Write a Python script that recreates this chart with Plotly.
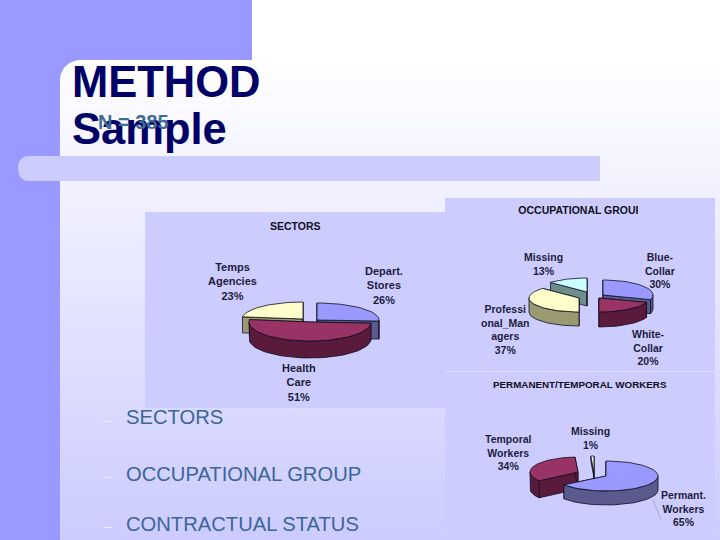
import math
import plotly.graph_objects as go

W, H = 720, 540
TITLE_LINES = ["METHOD", "Sample"]
SUBTITLE = "N = 385"
LIST_ITEMS = ["SECTORS", "OCCUPATIONAL GROUP", "CONTRACTUAL STATUS"]

SECTOR_NAMES = ["Depart.<br>Stores<br>26%", "Health<br>Care<br>51%", "Temps<br>Agencies<br>23%"]
SECTOR_VALUES = [26, 51, 23]
OCC_NAMES = ["Blue-<br>Collar<br>30%", "White-<br>Collar<br>20%", "Professi<br>onal_Man<br>agers<br>37%", "Missing<br>13%"]
OCC_VALUES = [30, 20, 37, 13]
PERM_NAMES = ["Permant.<br>Workers<br>65%", "Temporal<br>Workers<br>34%", "Missing<br>1%"]
PERM_VALUES = [65, 34, 1]

BLUE = ("#9999FF", "#5A5A8F")
PLUM = ("#993366", "#5A1A3C")
CREAM = ("#FFFFCC", "#9A9A72")
CYAN = ("#CCFFFF", "#6E8E8E")
PALE = ("#E8FFE8", "#556655")
INK = "#1C1C3C"

fig = go.Figure()
shapes = []
def rect(x0, y0, x1, y1, color):
    shapes.append(dict(type="rect", xref="x", yref="y", x0=x0, y0=y0, x1=x1, y1=y1,
                       fillcolor=color, line_width=0, layer="below"))

# slide background
rect(0, 0, 720, 540, "#FFFFFF")
rect(0, 0, 60, 540, "#9999FF")
rect(0, 0, 252, 60, "#9999FF")
# panel with a vertical gradient from white to the band colour
steps = 48
for i in range(steps):
    y0 = 60 + i * (480 / steps)
    v = int(255 - 51 * i / (steps - 1))
    rect(60, y0, 720, y0 + 480 / steps + 1, f"rgb({v},{v},255)")
rect(252, 0, 720, 60, "#FFFFFF")
# rounded corner
fig.add_trace(go.Scatter(
    x=[60, 60] + [80 - 20 * math.cos(a * math.pi / 40) for a in range(21)] + [60],
    y=[60, 80] + [80 - 20 * math.sin(a * math.pi / 40) for a in range(21)] + [60],
    fill="toself", fillcolor="#9999FF", mode="lines", line=dict(width=0), hoverinfo="skip", showlegend=False))
# band
shapes.append(dict(type="path", xref="x", yref="y", layer="below", fillcolor="#CCCCFF", line_width=0,
                   path="M 600 156 L 30 156 Q 18 156 18 168 Q 18 181 30 181 L 600 181 Z"))
# chart panels
rect(145, 212, 445, 408, "#CCCCFF")
rect(445, 198, 715, 371, "#CCCCFF")
rect(445, 372, 715, 540, "#CCCCFF")


def P(cx, cy, rx, ry, deg, dy=0):
    a = math.radians(deg)
    return cx + rx * math.sin(a), cy - ry * math.cos(a) + dy


def poly(pts, fill, line="#101020", width=0.8):
    xs, ys = zip(*pts)
    fig.add_trace(go.Scatter(x=list(xs) + [xs[0]], y=list(ys) + [ys[0]], fill="toself", fillcolor=fill,
                             mode="lines", line=dict(color=line, width=width),
                             hoverinfo="skip", showlegend=False))


def wedge(cx, cy, rx, ry, d, a0, a1, colors):
    top, side = colors
    for e in (a0, a1):
        q = P(cx, cy, rx, ry, e)
        poly([(cx, cy), q, (q[0], q[1] + d), (cx, cy + d)], side)
    s0, s1 = max(a0, 90), min(a1, 270)
    if s1 > s0:
        n = max(2, int((s1 - s0) / 4))
        arc = [P(cx, cy, rx, ry, s0 + (s1 - s0) * i / n) for i in range(n + 1)]
        poly(arc + [(x, y + d) for x, y in reversed(arc)], side)
    n = max(2, int((a1 - a0) / 4))
    poly([(cx, cy)] + [P(cx, cy, rx, ry, a0 + (a1 - a0) * i / n) for i in range(n + 1)], top)


def spans(values):
    out, acc = [], 0
    tot = sum(values)
    for v in values:
        out.append((acc / tot * 360, (acc + v) / tot * 360))
        acc += v
    return out


# SECTORS
sp = spans(SECTOR_VALUES)
wedge(303, 319, 61, 17, 16, *sp[2], CREAM)
wedge(317, 320, 62, 17, 18, *sp[0], BLUE)
wedge(310, 322, 61, 19, 17, *sp[1], PLUM)

# OCCUPATIONAL GROUP
sp = spans(OCC_VALUES)
wedge(587, 292, 50, 14, 14, *sp[3], CYAN)
wedge(603, 295, 50, 15, 14, *sp[0], BLUE)
wedge(579, 298, 50, 14, 14, *sp[2], CREAM)
wedge(599, 298, 50, 14, 15, *sp[1], PLUM)

# PERMANENT / TEMPORAL
sp = spans(PERM_VALUES)
wedge(594, 473, 50, 17, 5, *sp[2], PALE)
wedge(578, 472, 48, 15, 17, *sp[1], PLUM)
wedge(606, 476, 52, 15, 14, *sp[0], BLUE)
fig.add_trace(go.Scatter(x=[653, 661], y=[500, 520], mode="lines", line=dict(color="#9090B0", width=0.6),
                         hoverinfo="skip", showlegend=False))


def text(x, y, s, size, color=INK, bold=False, anchor="center", valign="middle"):
    fig.add_annotation(x=x, y=y, xref="x", yref="y", text=f"<b>{s}</b>" if bold else s, showarrow=False,
                       xanchor=anchor, yanchor=valign, align=anchor if anchor != "left" else "left",
                       font=dict(family="Liberation Sans", size=size, color=color))


text(69.5, 82, TITLE_LINES[0], 43.5, "#000066", True, "left")
text(69.5, 129, TITLE_LINES[1], 43.5, "#000066", True, "left")
text(96, 122, SUBTITLE, 20, "#3F6B95", True, "left")
for y, s in zip([417, 474, 524], LIST_ITEMS):
    text(123.5, y, s, 20.2, "#3D6597", False, "left")
for y in [420, 476, 526]:
    text(106.5, y, "–", 14, "#EEEEFF")

text(295, 226, "SECTORS", 10.5, "#101020", True)
text(232, 281, SECTOR_NAMES[2], 11, INK, True)
text(384, 285, SECTOR_NAMES[0], 11, INK, True)
text(299, 382, SECTOR_NAMES[1], 11, INK, True)

fig.add_trace(go.Scatter(x=[580.5], y=[211], text=["<b>OCCUPATIONAL GROUP</b>"], mode="text",
                         textfont=dict(family="Liberation Sans", size=10.5, color="#101020"),
                         xaxis="x2", yaxis="y2", hoverinfo="skip", showlegend=False))
text(543, 263.5, OCC_NAMES[3], 10.5, INK, True)
text(660, 270, OCC_NAMES[0], 10.5, INK, True)
text(505, 329, OCC_NAMES[2], 10.5, INK, True)
text(648, 347, OCC_NAMES[1], 10.5, INK, True)

text(580, 384, "PERMANENT/TEMPORAL WORKERS", 9.8, "#101020", True)
text(590, 438, PERM_NAMES[2], 10.5, INK, True)
text(508, 452, PERM_NAMES[1], 10.5, INK, True)
text(683, 508.5, PERM_NAMES[0], 10.5, INK, True)

fig.update_layout(
    width=W, height=H, margin=dict(l=0, r=0, t=0, b=0), showlegend=False,
    paper_bgcolor="#FFFFFF", plot_bgcolor="rgba(0,0,0,0)", shapes=shapes,
    xaxis=dict(range=[0, W], visible=False, domain=[0, 1], fixedrange=True),
    yaxis=dict(range=[H, 0], visible=False, domain=[0, 1], fixedrange=True),
    xaxis2=dict(range=[0, 638], visible=False, domain=[0, 638 / 720], anchor="y2", fixedrange=True),
    yaxis2=dict(range=[H, 0], visible=False, domain=[0, 1], anchor="x2", fixedrange=True),
)
fig.write_html("out.html", config=dict(displayModeBar=False),
               post_script="document.body.style.margin='0';document.documentElement.style.overflow='hidden';")
